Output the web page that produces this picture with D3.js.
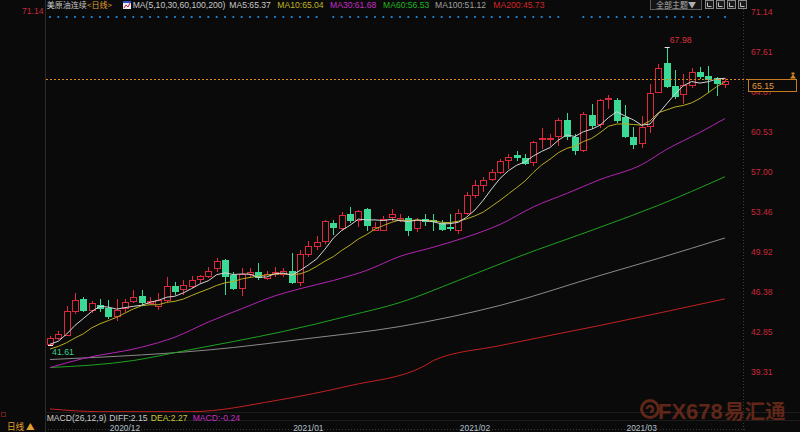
<!DOCTYPE html>
<html><head><meta charset="utf-8">
<script src="https://cdn.jsdelivr.net/npm/d3@7"></script>
<style>
html,body{margin:0;padding:0;background:#0a0a0a;overflow:hidden;}
svg{display:block;}
text{font-family:"Liberation Sans",Arial,"Noto Sans CJK SC",sans-serif;}
</style></head><body>
<svg id="c" width="800" height="432"></svg>
<script>
// ---- data ----
const opens  = [41.76,42.29,42.58,44.68,45.74,44.77,45.15,44.94,44.26,44.91,45.50,46.01,45.35,45.06,45.59,46.86,46.57,46.86,47.45,47.71,48.49,49.13,47.80,46.71,47.92,48.15,47.62,47.89,47.95,48.24,47.21,49.73,50.37,50.81,52.44,52.03,53.21,52.74,53.68,51.85,51.85,52.97,52.67,52.91,52.03,52.82,52.70,52.44,52.06,51.85,53.32,54.89,55.84,56.31,56.95,58.05,58.43,58.19,57.84,59.88,59.85,60.14,61.53,60.05,58.87,61.97,61.15,63.39,63.30,61.82,60.05,59.47,61.03,64.04,66.55,64.57,63.81,64.63,65.81,65.45,65.22,64.69];
const highs  = [42.49,42.93,45.12,46.24,45.88,45.50,45.74,45.59,45.74,45.74,46.54,46.48,45.94,46.24,47.65,47.21,47.36,47.71,47.80,48.54,49.37,49.28,48.09,48.49,48.46,48.92,48.24,48.54,48.45,49.78,50.08,50.84,51.25,52.67,52.67,53.41,53.85,53.62,53.76,52.53,53.03,53.71,53.27,53.03,52.91,53.21,53.27,52.67,53.27,53.65,55.18,56.22,56.51,57.19,58.14,58.52,58.81,58.58,59.67,60.85,60.27,61.68,62.18,60.27,62.21,62.92,63.39,63.75,63.45,62.86,60.94,61.91,64.69,66.47,67.98,65.96,65.58,66.11,66.25,66.31,65.37,65.28];
const lows   = [41.61,42.20,42.50,44.50,44.70,44.55,44.70,44.06,43.82,44.70,45.45,45.24,45.24,44.88,45.44,46.18,46.18,46.77,47.21,47.65,48.19,46.18,46.62,46.09,47.71,47.45,47.52,47.71,47.71,47.12,46.92,49.49,50.17,50.70,51.50,51.85,52.53,52.14,51.79,51.79,51.79,52.74,52.61,51.35,51.73,52.23,51.79,51.85,51.79,51.55,53.27,54.74,55.24,56.22,56.90,57.31,57.99,57.69,57.61,59.08,59.32,59.32,59.91,58.58,58.78,60.85,60.94,62.62,61.40,60.05,59.03,59.17,60.50,63.99,64.48,63.45,63.01,64.48,65.22,64.04,63.75,64.48];
const closes = [42.29,42.64,44.62,45.65,44.77,45.39,44.94,44.26,44.77,45.44,45.94,45.44,45.53,45.65,46.83,46.39,46.92,47.42,47.71,48.24,49.05,47.74,46.68,47.95,48.15,47.65,47.92,48.10,48.24,47.21,49.73,50.37,50.75,52.58,52.08,53.12,52.67,53.47,52.23,52.08,52.82,53.21,52.88,51.85,52.74,52.61,52.64,51.94,51.99,53.32,54.89,55.84,56.28,56.95,57.93,58.28,58.28,57.78,59.56,59.95,59.97,61.53,60.14,58.87,62.04,61.09,63.28,63.45,61.53,60.14,59.41,60.94,63.90,66.11,64.54,63.68,64.63,65.76,65.45,65.16,64.83,64.98];
// closes of the 9 sessions before the first visible candle (estimated, needed for MA5/MA10)
const priorCloses = [40.29,41.36,41.45,41.12,40.13,41.34,41.43,41.82,41.74];
// slower moving averages, read at sample candles: [candle index, value]
const ma30Pts  = [[0,39.66],[4,40.46],[11,41.46],[15,42.35],[19,43.68],[23,44.86],[27,46.0],[30,46.63],[34,47.36],[38,48.25],[42,49.49],[46,50.3],[50,51.2],[54,52.31],[58,53.86],[62,55.05],[66,56.28],[71,57.6],[74,58.95],[78,60.45],[81,61.68]];
const ma60Pts  = [[0,39.66],[10,40.28],[16,41.12],[22,41.96],[28,42.85],[36,44.26],[42,45.41],[49,47.36],[56,49.40],[66,52.06],[73,54.0],[81,56.53]];
const ma100Pts = [[0,40.37],[22,41.43],[30,42.14],[42,43.29],[54,45.15],[66,47.80],[73,49.31],[81,51.12]];
const ma200Pts = [[0,36.00],[6,35.76],[17,35.76],[27,36.73],[36,38.06],[45,39.83],[46,40.28],[54,41.60],[66,43.38],[81,45.73]];
const priceTicks = ["71.14","67.61","64.07","60.53","57.00","53.46","49.92","46.38","42.85","39.31"];
const monthLabels = ["2020/12","2021/01","2021/02","2021/03"];
const monthIdx = [9,31,51,71];
const dotGaps = [33,62,63,80];
const lastPrice = 65.15;
const maxHigh = 67.98, maxIdx = 74;
const minLow = 41.61, minIdx = 0;
const maLegend = [
  {t:"MA(5,10,30,60,100,200)", x:132.7, c:"#c8c8c8"},
  {t:"MA5:65.37",  x:229.3, c:"#c8c8c8"},
  {t:"MA10:65.04", x:277.3, c:"#c0b428"},
  {t:"MA30:61.68", x:330,   c:"#c42cc4"},
  {t:"MA60:56.53", x:383,   c:"#22b422"},
  {t:"MA100:51.12",x:435,   c:"#a0a0a0"},
  {t:"MA200:45.73",x:493.3, c:"#d02828"}
];
const macdLegend = [
  {t:"MACD(26,12,9)", x:46.7, c:"#c8c8c8"},
  {t:"DIFF:2.15", x:109.3, c:"#c8c8c8"},
  {t:"DEA:2.27", x:150.7, c:"#c8c832"},
  {t:"MACD:-0.24", x:192.7, c:"#c42cc4"}
];

// ---- chart ----
const svg = d3.select('#c');
svg.append('rect').attr('width',800).attr('height',432).attr('fill','#0a0a0a');

const n = closes.length;
const x = d3.scaleLinear().domain([0, n-1]).range([50, 725]);
const y = d3.scaleLinear().domain([39.31, 71.14]).range([371.5, 11.5]);

const defs = svg.append('defs');
defs.append('clipPath').attr('id','plot').append('rect').attr('x',45).attr('y',20).attr('width',698).attr('height',392);

// frame lines
svg.append('line').attr('x1',45.5).attr('x2',45.5).attr('y1',0).attr('y2',432).attr('stroke','#2c2c2c');
svg.append('line').attr('x1',743.5).attr('x2',743.5).attr('y1',0).attr('y2',432).attr('stroke','#3a3a3a').attr('stroke-dasharray','1,2');
svg.append('line').attr('x1',45).attr('x2',800).attr('y1',412.5).attr('y2',412.5).attr('stroke','#1c1c1c');
svg.append('line').attr('x1',45).attr('x2',800).attr('y1',420.5).attr('y2',420.5).attr('stroke','#1c1c1c');
svg.append('line').attr('x1',45).attr('x2',745).attr('y1',429.5).attr('y2',429.5).attr('stroke','#3a3a3a').attr('stroke-dasharray','1,2');

// watermark
const wm = svg.append('g').attr('opacity',0.9);
wm.append('circle').attr('cx',650).attr('cy',409).attr('r',8.5).attr('fill','none').attr('stroke','#6a2a1a').attr('stroke-width',3);
wm.append('path').attr('d','M650,409 m-3,0 a3,3 0 1,1 3,3').attr('fill','none').attr('stroke','#6a2a1a').attr('stroke-width',2.5);
wm.append('text').attr('x',658).attr('y',419).attr('font-size',22).attr('font-weight','bold').attr('fill','#6a2a1a').text('FX678');
wm.append('text').attr('x',724).attr('y',419).attr('font-size',20.5).attr('font-weight','bold').attr('fill','#6a2a1a')
  .style('font-family','"Noto Sans CJK SC",sans-serif').text('易汇通');

// blue marker dots
const dotIdx = d3.range(n).filter(i => !dotGaps.includes(i));
svg.append('g').selectAll('circle').data(dotIdx).join('circle')
  .attr('cx', i => x(i)).attr('cy', 17).attr('r', 1.1).attr('fill', '#1e8ee0');

const plot = svg.append('g').attr('clip-path','url(#plot)');

// last price dashed line
const yLast = Math.round(y(lastPrice)) + 0.5;
svg.append('line').attr('x1',46).attr('x2',748).attr('y1',yLast).attr('y2',yLast)
  .attr('stroke','#d98a22').attr('stroke-dasharray','2,2');

// moving averages
const allCloses = priorCloses.concat(closes);
function sma(period){
  return closes.map((c,i)=>{
    const j = i + priorCloses.length;
    return [i, d3.mean(allCloses.slice(j-period+1, j+1))];
  });
}
const ma5 = sma(5), ma10 = sma(10);
const lineLin = d3.line().x(d=>x(d[0])).y(d=>y(d[1]));
const lineSm = d3.line().x(d=>x(d[0])).y(d=>y(d[1])).curve(d3.curveMonotoneX);
const maDefs = [
  {d:ma200Pts, c:"#c42020", g:lineSm},
  {d:ma100Pts, c:"#8a8a8a", g:lineSm},
  {d:ma60Pts,  c:"#1fa21f", g:lineSm},
  {d:ma30Pts,  c:"#b424b4", g:lineSm},
];
maDefs.forEach(m => plot.append('path').attr('d', m.g(m.d)).attr('fill','none').attr('stroke', m.c).attr('stroke-width',1));

// candles
const cg = plot.append('g').attr('shape-rendering','crispEdges');
const RED = '#dc2a3c', GREEN = '#3ad995';
d3.range(n).forEach(i => {
  const o = opens[i], h = highs[i], l = lows[i], c = closes[i];
  const up = c >= o;
  const cx = Math.round(x(i));
  const col = up ? RED : GREEN;
  const yt = Math.round(y(Math.max(o,c))), yb = Math.round(y(Math.min(o,c)));
  cg.append('line').attr('x1',cx+0.5).attr('x2',cx+0.5)
    .attr('y1',Math.round(y(h))).attr('y2',Math.round(y(l))+1).attr('stroke',col);
  if (up) {
    cg.append('rect').attr('x',cx-2.5).attr('y',yt+0.5).attr('width',6).attr('height',Math.max(yb-yt,1))
      .attr('fill','#0a0a0a').attr('stroke',col);
  } else {
    cg.append('rect').attr('x',cx-3).attr('y',yt).attr('width',7).attr('height',Math.max(yb-yt,1)+1)
      .attr('fill',col);
  }
});

// fast MAs on top
plot.append('path').attr('d', lineLin(ma10)).attr('fill','none').attr('stroke','#b8ac22').attr('stroke-width',1);
plot.append('path').attr('d', lineLin(ma5)).attr('fill','none').attr('stroke','#d4d4d4').attr('stroke-width',1);

// extreme markers
const yH = Math.round(y(maxHigh))+0.5, yL = Math.round(y(minLow))+0.5;
svg.append('line').attr('x1',x(maxIdx)-2).attr('x2',x(maxIdx)+3).attr('y1',yH).attr('y2',yH).attr('stroke','#e8e8e8');
svg.append('text').attr('x',x(maxIdx)+3).attr('y',yH-5).attr('font-size',8.8).attr('fill','#d8303c').text(maxHigh.toFixed(2));
svg.append('line').attr('x1',x(minIdx)-2).attr('x2',x(minIdx)+3).attr('y1',yL).attr('y2',yL).attr('stroke','#e8e8e8');
svg.append('text').attr('x',x(minIdx)+2).attr('y',yL+9).attr('font-size',8.8).attr('fill','#3ccf8e').text(minLow.toFixed(2));

// right price axis
const yAxis = d3.axisRight(y).tickValues(priceTicks.map(Number)).tickFormat((d,i)=>priceTicks[i]).tickSize(0).tickPadding(3);
const ax = svg.append('g').attr('transform','translate(748,0)').call(yAxis);
ax.select('.domain').remove();
ax.selectAll('text').attr('fill','#c8283a').attr('font-size',8.6).style('font-family','"Liberation Sans",Arial,sans-serif');
// left top label
svg.append('text').attr('x',22).attr('y',y(71.14)).attr('dy','0.32em').attr('font-size',8.6).attr('fill','#c8283a').text(priceTicks[0]);

// last price box (drawn over the axis label it hides, as in the original)
svg.append('rect').attr('x',748.5).attr('y',yLast).attr('width',48).attr('height',12).attr('fill','#0a0a0a').attr('stroke','#c87a1e');
svg.append('text').attr('x',752).attr('y',yLast+6).attr('dy','0.35em').attr('font-size',8.8).attr('fill','#e09a3a').text(lastPrice.toFixed(2));
svg.append('path').attr('d',`M790,${yLast-1} l3,-4 l3,4 z M791.5,${yLast-5} h3 v-2 h-3 z`).attr('fill','#d98a22');

// date axis
svg.append('g').selectAll('text').data(monthLabels).join('text')
  .attr('x',(d,i)=>x(monthIdx[i])).attr('y',430.5).attr('text-anchor','middle')
  .attr('font-size',8.4).attr('fill','#b4c0cc').text(d=>d);

// header
const hd = svg.append('g');
hd.append('text').attr('x',46.7).attr('y',8.2).attr('font-size',8).attr('fill','#c8c8c8')
  .style('font-family','"Noto Sans CJK SC",sans-serif').text('美原油连续');
hd.append('text').attr('x',87).attr('y',8.2).attr('font-size',8).attr('fill','#e0a030')
  .style('font-family','"Noto Sans CJK SC",sans-serif').text('<日线>');
hd.append('rect').attr('x',123).attr('y',1).attr('width',8).attr('height',8).attr('fill','#e8e8f8');
hd.append('path').attr('d','M124,8 l2,-3 l2,2 l2,-4').attr('stroke','#d02030').attr('fill','none');
hd.append('rect').attr('x',123).attr('y',1).attr('width',8).attr('height',2).attr('fill','#3050c0');
hd.selectAll('text.ma').data(maLegend).join('text').attr('class','ma')
  .attr('x',d=>d.x).attr('y',8.2).attr('font-size',8.6).attr('fill',d=>d.c).text(d=>d.t);

// top-right controls
svg.append('rect').attr('x',650.5).attr('y',-1).attr('width',51).attr('height',10.5).attr('fill','#141414').attr('stroke','#5a5a5a');
svg.append('text').attr('x',656).attr('y',7.5).attr('font-size',8).attr('fill','#b0b0b0')
  .style('font-family','"Noto Sans CJK SC",sans-serif').text('全部主题▼');
[705,716,727,738].forEach(px => {
  svg.append('rect').attr('x',px+0.5).attr('y',0.5).attr('width',8).attr('height',8).attr('fill','#1a1a1a').attr('stroke','#8a8a8a');
  svg.append('path').attr('d',`M${px+2.5},${2.5} v4 h4`).attr('stroke','#c0c0c0').attr('fill','none');
});

// MACD legend
svg.append('g').selectAll('text').data(macdLegend).join('text')
  .attr('x',d=>d.x).attr('y',420.5).attr('font-size',8.6).attr('fill',d=>d.c).text(d=>d.t);

// bottom-left
svg.append('rect').attr('x',1.5).attr('y',412.5).attr('width',4).attr('height',4).attr('fill','none').attr('stroke','#d03030').attr('stroke-dasharray','1,1');
svg.append('text').attr('x',7).attr('y',430).attr('font-size',8.6).attr('fill','#e0a030')
  .style('font-family','"Noto Sans CJK SC",sans-serif').text('日线 ▲');
</script>
</body></html>
